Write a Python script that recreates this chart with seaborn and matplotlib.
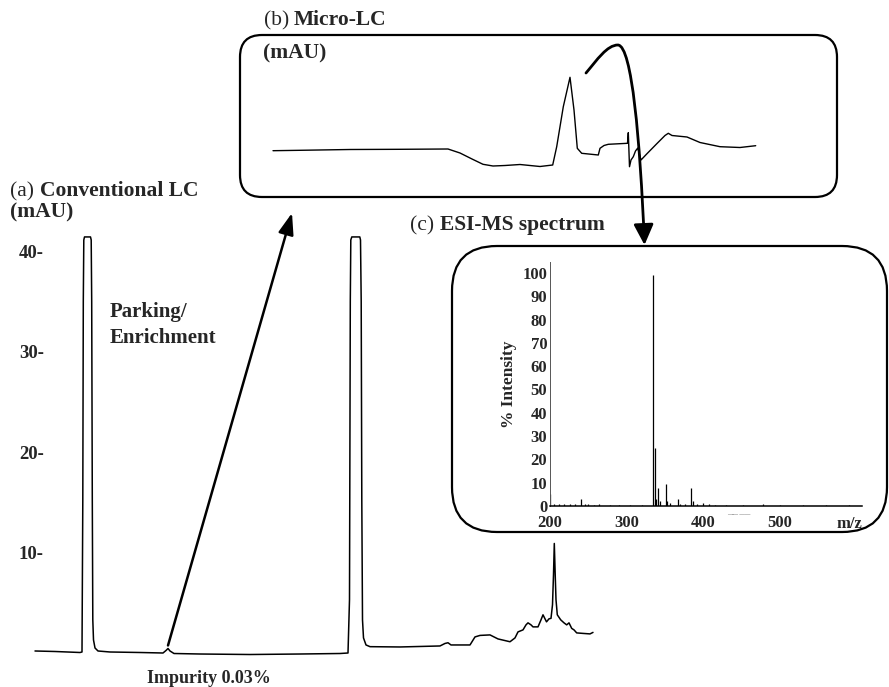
import numpy as np
import pandas as pd
import seaborn as sns
import matplotlib
matplotlib.use("Agg")
import matplotlib.pyplot as plt
from matplotlib.patches import FancyBboxPatch, FancyArrowPatch, ArrowStyle
from matplotlib.path import Path

# ---------------- data ----------------
# (a) Conventional LC chromatogram: time (min), absorbance (mAU)
lc_time = [-0.45, 0.55, 1.8, 1.9, 1.94, 1.965, 1.99, 2.025, 2.325, 2.36, 2.385, 2.415, 2.44, 2.475,
           2.55, 2.7, 3.3, 4.8, 5.95, 6.1, 6.2, 6.3, 6.5, 7.8, 10.3, 12.8, 14.8, 15.2, 15.275,
           15.315, 15.34, 15.39, 15.79, 15.825, 15.86, 15.89, 15.925, 15.975, 16.1, 16.3, 17.8,
           19.8, 20.05, 20.2, 20.35, 21.3, 21.55, 21.8, 22.3, 22.7, 23.3, 23.55, 23.7, 23.95, 24.1,
           24.2, 24.35, 24.45, 24.7, 24.85, 24.95, 25.05, 25.125, 25.25, 25.35, 25.425, 25.475,
           25.515, 25.56, 25.6, 25.665, 25.835, 26.0, 26.135, 26.25, 26.385, 26.5, 26.635, 26.95,
           27.3, 27.45]
lc_mau = [0.2, 0.15, 0.05, 0.1, 15.2, 35.0, 41.1, 41.4, 41.4, 41.1, 35.0, 15.2, 3.3, 1.3,
          0.5, 0.2, 0.1, 0.05, 0.0, 0.25, 0.45, 0.2, -0.05, -0.1, -0.15, -0.1, -0.05, 0.0, 5.3,
          35.0, 41.1, 41.4, 41.4, 41.1, 35.0, 15.2, 3.3, 1.5, 0.8, 0.63, 0.6,
          0.7, 0.95, 1.02, 0.8, 0.8, 1.6, 1.75, 1.8, 1.4, 1.12, 1.5, 2.1, 2.3, 2.8,
          3.0, 2.8, 2.6, 2.6, 3.3, 3.8, 3.4, 3.1, 3.4, 3.45, 4.8, 7.8,
          10.9, 7.8, 5.3, 3.8, 3.3, 3.0, 2.8, 3.0, 2.45, 2.3, 2.0, 1.95,
          1.9, 2.05]
lc_yticks = [10, 20, 30, 40]
lc_yticklabels = ["10-", "20-", "30-", "40-"]
impurity_time, impurity_mau = 6.2, 0.75

# (b) Micro-LC trace: time (min), absorbance (arbitrary mAU)
mlc_time = [1.65, 3.0, 5.5, 8.0, 10.4, 11.0, 11.6, 12.15, 12.65, 13.25, 14.0, 15.0, 15.635, 15.835,
            16.165, 16.5, 16.7, 16.865, 17.085, 17.915, 18.0, 18.2, 18.415, 19.375, 19.415, 19.475,
            19.55, 19.665, 19.775, 19.89, 20.05, 20.335, 20.85, 21.25, 21.415, 21.6, 22.35, 23.0,
            24.0, 25.0, 25.785]
mlc_mau = [4.63, 4.67, 4.75, 4.77, 4.8, 4.4, 3.8, 3.27, 3.1, 3.15, 3.25, 3.05, 3.2, 5.03,
           9.03, 11.97, 8.7, 4.87, 4.37, 4.2, 4.87, 5.15, 5.27, 5.37, 6.43, 3.03,
           3.7, 4.03, 4.6, 4.9, 3.7, 4.3, 5.35, 6.15, 6.37, 6.15, 6.0, 5.45,
           5.03, 4.95, 5.13]

# (c) ESI-MS spectrum: m/z and % intensity
ms_mz = [200.5, 205, 212, 218, 226, 233, 241, 246, 250, 258, 264, 278, 290, 305, 320,
         334.7, 336.5, 338, 341.2, 344, 350.8, 353, 357, 366.4, 370, 376, 383.4, 386, 392,
         400, 408, 415, 430, 452, 478, 500, 530, 560, 590]
ms_int = [5.0, 1.0, 0.8, 1.0, 0.7, 0.8, 2.8, 0.8, 1.0, 0.6, 0.9, 0.5, 0.5, 0.5, 0.4,
          99.0, 25.0, 3.0, 7.6, 2.0, 9.5, 2.0, 1.2, 3.0, 1.0, 0.8, 7.9, 2.0, 1.0,
          1.2, 0.8, 0.6, 0.4, 0.4, 1.0, 0.3, 0.3, 0.3, 0.3]
ms_xticks = [200, 300, 400, 500]
ms_yticks = list(range(0, 101, 10))

# ---------------- style ----------------
sns.set_theme(style="white")
plt.rcParams["font.family"] = ["Liberation Serif", "DejaVu Serif"]

W, H = 889, 687
fig = plt.figure(figsize=(W / 100, H / 100), dpi=100)


def add_axes_px(x0, y0, x1, y1):
    return fig.add_axes([x0 / W, 1 - y1 / H, (x1 - x0) / W, (y1 - y0) / H])


def ftext(x, y, s, **kw):
    kw.setdefault("va", "baseline")
    return fig.text(x / W, 1 - y / H, s, **kw)


def inch(x, y):
    return (x / 100.0, (H - y) / 100.0)


# ---------------- (a) conventional LC ----------------
ax_a = add_axes_px(44, 230, 889, 687)
ax_a.patch.set_alpha(0)
df_a = pd.DataFrame({"t": lc_time, "mAU": lc_mau})
sns.lineplot(data=df_a, x="t", y="mAU", ax=ax_a, color="black", lw=1.1,
             estimator=None, sort=False)
for ln in ax_a.lines:
    ln.set_clip_on(False)
ax_a.set_xlim(0, 42.25)
ax_a.set_ylim(-3.383, 42.09)
for s in ax_a.spines.values():
    s.set_visible(False)
ax_a.set_xticks([])
ax_a.set_yticks(lc_yticks)
ax_a.set_yticklabels(lc_yticklabels, fontweight="bold", fontsize=13.5)
ax_a.tick_params(axis="y", length=0, pad=0)
ax_a.set_xlabel("")
ax_a.set_ylabel("")

# ---------------- (b) micro-LC ----------------
ax_b = add_axes_px(240, 35, 837, 197)
ax_b.patch.set_alpha(0)
df_b = pd.DataFrame({"t": mlc_time, "mAU": mlc_mau})
sns.lineplot(data=df_b, x="t", y="mAU", ax=ax_b, color="black", lw=1.0,
             estimator=None, sort=False)
ax_b.set_xlim(0, 29.85)
ax_b.set_ylim(0, 16.2)
ax_b.axis("off")

# ---------------- (c) ESI-MS ----------------
ax_c = add_axes_px(550, 262, 862, 506)
ax_c.patch.set_alpha(0)
ax_c.vlines(ms_mz, 0, ms_int, color="black", lw=0.9)
ax_c.set_xlim(200, 607)
ax_c.set_ylim(0, 104.7)
ax_c.spines["top"].set_visible(False)
ax_c.spines["right"].set_visible(False)
ax_c.spines["left"].set_color("#555555")
ax_c.spines["left"].set_linewidth(0.7)
ax_c.spines["bottom"].set_color("black")
ax_c.spines["bottom"].set_linewidth(1.1)
ax_c.set_xticks(ms_xticks)
ax_c.set_xticklabels([str(v) for v in ms_xticks], fontweight="bold", fontsize=12)
ax_c.set_yticks(ms_yticks)
ax_c.set_yticklabels([str(v) for v in ms_yticks], fontweight="bold", fontsize=12)
ax_c.tick_params(axis="y", length=0, pad=2)
ax_c.tick_params(axis="x", length=0, pad=6.5)
ax_c.set_ylabel("% Intensity", fontweight="bold", fontsize=12.5, labelpad=4)
ax_c.set_xlabel("")

# ---------------- boxes ----------------
x0, y0 = inch(240, 197)
box_b = FancyBboxPatch((x0, y0), 5.97, 1.62, boxstyle="round,pad=0,rounding_size=0.22",
                       transform=fig.dpi_scale_trans, fc="none", ec="black", lw=1.6)
fig.add_artist(box_b)
x0, y0 = inch(452, 532)
box_c = FancyBboxPatch((x0, y0), 4.35, 2.86, boxstyle="round,pad=0,rounding_size=0.45",
                       transform=fig.dpi_scale_trans, fc="none", ec="black", lw=1.6)
fig.add_artist(box_c)

# ---------------- arrows ----------------
tail_disp = ax_a.transData.transform((impurity_time, impurity_mau))
tail_in = fig.dpi_scale_trans.inverted().transform(tail_disp)
arr1 = FancyArrowPatch(tuple(tail_in), inch(292, 213),
                       arrowstyle=ArrowStyle("-|>", head_length=1.0, head_width=0.36),
                       mutation_scale=13, lw=1.8, color="black",
                       shrinkA=0, shrinkB=0, transform=fig.dpi_scale_trans)
fig.add_artist(arr1)

verts = [inch(586, 73), inch(597, 60), inch(607, 45), inch(618, 45),
         inch(632, 46), inch(640, 140), inch(644.5, 245)]
codes = [Path.MOVETO] + [Path.CURVE4] * 6
arr2 = FancyArrowPatch(path=Path(verts, codes),
                       arrowstyle=ArrowStyle("-|>", head_length=1.0, head_width=0.48),
                       mutation_scale=12.5, lw=2.0, color="black",
                       transform=fig.dpi_scale_trans)
fig.add_artist(arr2)

# ---------------- texts ----------------
TS = 15.5
ftext(10, 196, "(a)", fontsize=TS)
ftext(40, 196, "Conventional LC", fontsize=TS, fontweight="bold")
ftext(10, 217, "(mAU)", fontsize=TS, fontweight="bold")
ftext(264, 25, "(b)", fontsize=TS)
ftext(294, 25, "Micro-LC", fontsize=TS, fontweight="bold")
ftext(263, 58, "(mAU)", fontsize=TS, fontweight="bold")
ftext(410, 230, "(c)", fontsize=TS)
ftext(440, 230, "ESI-MS spectrum", fontsize=TS, fontweight="bold")
ftext(110, 317, "Parking/", fontsize=15, fontweight="bold")
ftext(110, 343, "Enrichment", fontsize=15, fontweight="bold")
ftext(209, 683, "Impurity 0.03%", fontsize=13, fontweight="bold", ha="center")
ftext(862, 528, "m/z", fontsize=12, fontweight="bold", ha="right")
ftext(739, 516, "—— ——", fontsize=4, color="#444444", ha="center")

fig.savefig("out.png", dpi=100)
